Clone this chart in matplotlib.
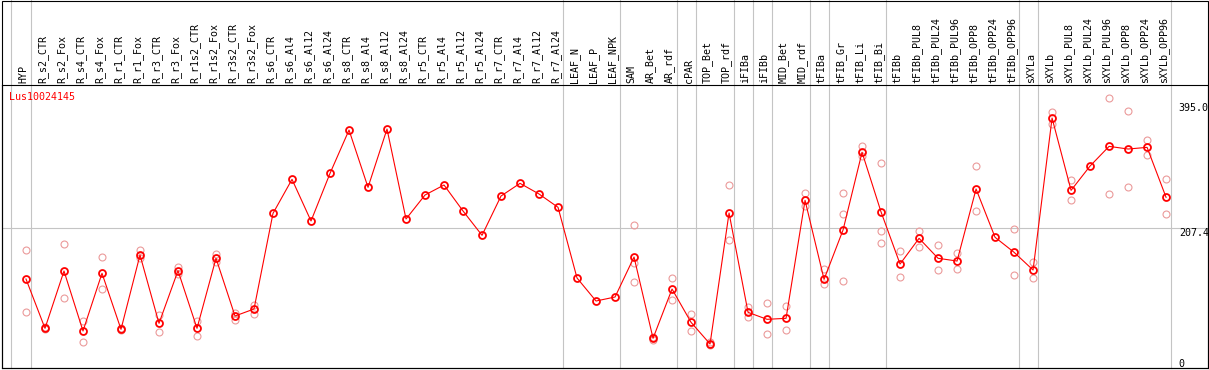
import numpy as np
import matplotlib
matplotlib.use("Agg")
import matplotlib.pyplot as plt
import matplotlib.transforms as mtransforms
from matplotlib.patches import Rectangle

labels = ["HYP", "R_s2_CTR", "R_s2_Fox", "R_s4_CTR", "R_s4_Fox", "R_r1_CTR", "R_r1_Fox",
          "R_r3_CTR", "R_r3_Fox", "R_r1s2_CTR", "R_r1s2_Fox", "R_r3s2_CTR", "R_r3s2_Fox",
          "R_s6_CTR", "R_s6_Al4", "R_s6_Al12", "R_s6_Al24", "R_s8_CTR", "R_s8_Al4",
          "R_s8_Al12", "R_s8_Al24", "R_r5_CTR", "R_r5_Al4", "R_r5_Al12", "R_r5_Al24",
          "R_r7_CTR", "R_r7_Al4", "R_r7_Al12", "R_r7_Al24", "LEAF_N", "LEAF_P", "LEAF_NPK",
          "SAM", "AR_Bet", "AR_rdf", "cPAR", "TOP_Bet", "TOP_rdf", "iFIBa", "iFIBb",
          "MID_Bet", "MID_rdf", "tFIBa", "tFIB_Gr", "tFIB_Li", "tFIB_Bi", "tFIBb",
          "tFIBb_PUL8", "tFIBb_PUL24", "tFIBb_PUL96", "tFIBb_OPP8", "tFIBb_OPP24",
          "tFIBb_OPP96", "sXYLa", "sXYLb", "sXYLb_PUL8", "sXYLb_PUL24", "sXYLb_PUL96",
          "sXYLb_OPP8", "sXYLb_OPP24", "sXYLb_OPP96"]

# mean expression per sample
means = [131.3, 57.3, 143.3, 53.3, 139.9, 55.8, 167.3, 64.8, 143.8, 57.3, 162.4, 75.8, 86.3,
         229.9, 280.9, 218.4, 289.9, 354.9, 268.9, 356.4, 221.4, 257.4, 272.4, 233.4, 196.9,
         255.9, 274.9, 258.9, 238.9, 132.8, 98.3, 104.3, 164.3, 42.3, 116.3, 66.3, 33.8,
         230.4, 81.3, 70.8, 72.3, 249.4, 130.8, 204.9, 321.5, 231.9, 153.8, 192.4, 162.4,
         158.3, 266.4, 193.9, 171.4, 144.8, 372.9, 264.4, 300.9, 330.4, 326.4, 328.9, 253.9]

# replicates (None = not shown)
rep_hi = [174.8, 58.8, 183.4, 68.3, 163.9, 57.3, 174.4, 77.3, 149.8, 68.3, 169.3, 80.8, 92.3,
          None, None, None, None, None, None, None, None, None, None, None, None,
          None, None, None, None, None, None, None, 212.4, 44.3, 132.3, 78.8, 37.3,
          272.4, 89.8, 94.8, 90.8, 260.4, 145.9, 260.4, 330.9, 304.9, 173.3, 203.4, 181.9,
          169.9, 300.9, None, 205.9, 156.8, 381.5, 279.9, None, 402.5, 383.5, 339.9, 280.9]
rep_lo = [81.3, 55.8, 102.4, 36.3, 115.9, 54.3, 162.4, 52.3, 138.8, 46.3, 157.3, 69.8, 78.3,
          None, None, None, None, None, None, None, None, None, None, None, None,
          None, None, None, None, None, None, None, 154.9, 40.3, 99.3, 53.8, 31.8,
          189.4, 73.8, 48.8, 54.8, 241.4, 123.8, 228.4, 316.4, 203.4, 134.3, 179.8, 144.3,
          146.3, 233.4, None, 136.9, 132.3, 364.4, 249.4, None, 258.9, 268.9, 316.9, 228.4]
rep_3 = [None] * 32 + [126.8] + [None] * 10 + [128.3, None, 184.9] + [None] * 15

group_edges = [-0.8, 0.25, 28.25, 31.25, 34.25, 35.25, 37.25, 38.25, 39.25, 41.25,
               42.25, 45.25, 52.25, 53.25, 60.25]
ytick_vals = [395.0, 207.4, 0]
ytick_text = ["395.0", "207.4", "0"]

def arr(v):
    return np.array([np.nan if a is None else a for a in v], dtype=float)

W, H = 1209, 370
fig = plt.figure(figsize=(W / 100, H / 100), dpi=100)
ax = fig.add_axes([1.5 / W, 2 / H, 1206 / W, 283 / H])
x = np.arange(len(labels))

mono = "DejaVu Sans Mono"
pink = "#eb9a9a"
grid = "#c4c4c4"

for e in group_edges:
    ax.axvline(e, ymin=0, ymax=(283 + 85) / 283, clip_on=False, color=grid, lw=0.8, zorder=0.5)
ax.axhline(207.4, color=grid, lw=0.8, zorder=0.5)

for rep in (rep_hi, rep_lo, rep_3):
    ax.plot(x, arr(rep), ls="none", marker="o", ms=5.0, mfc="none", mec=pink, mew=0.8, zorder=2)
ax.plot(x, means, color="red", lw=0.8, marker="o", ms=5.0, mfc="none", mec="red",
        mew=1.3, zorder=3)

ax.set_xlim(-1.289, 62.18)
ax.set_ylim(-2.25, 422.5)

ax.xaxis.tick_top()
ax.set_xticks(x)
ax.set_xticklabels(labels, rotation=90, fontfamily=mono, fontsize=7.2)
ax.tick_params(axis="x", length=0, pad=1.5)
offset = mtransforms.ScaledTranslation(-2.5 / 100, 0, fig.dpi_scale_trans)
for lbl in ax.get_xticklabels():
    lbl.set_transform(lbl.get_transform() + offset)
ax.set_yticks([])

for v, s in zip(ytick_vals, ytick_text):
    ax.text(60.67, v, s, va="top" if v > 0 else "baseline", ha="left",
            fontfamily=mono, fontsize=7.2, clip_on=True)

ax.text(0.0065, 0.9565, "Lus10024145", transform=ax.transAxes, color="red",
        fontfamily=mono, fontsize=7.2, va="center", ha="left")

for sp in ax.spines.values():
    sp.set_linewidth(0.8)
    sp.set_color("black")

fig.add_artist(Rectangle((1.5 / W, 2 / H), 1206 / W, (H - 2.5) / H, transform=fig.transFigure,
                         fill=False, lw=0.8, ec="black"))

fig.savefig("out.png", dpi=100)
